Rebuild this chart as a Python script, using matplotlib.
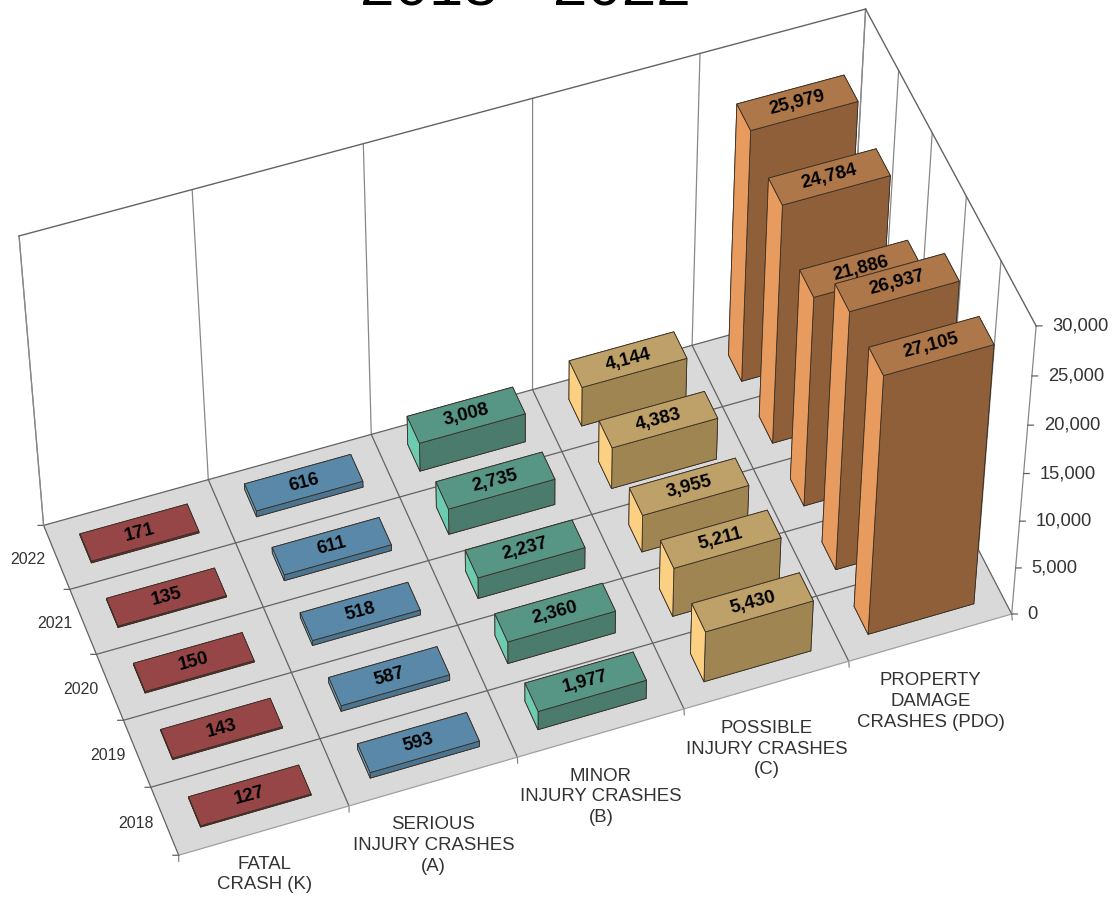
import numpy as np
import matplotlib
matplotlib.use('Agg')
import matplotlib.pyplot as plt
from mpl_toolkits.mplot3d import proj3d
from mpl_toolkits.mplot3d.art3d import Poly3DCollection

years = ['2018', '2019', '2020', '2021', '2022']
categories = ['FATAL\nCRASH (K)', 'SERIOUS\nINJURY CRASHES\n(A)', 'MINOR\nINJURY CRASHES\n(B)',
              'POSSIBLE\nINJURY CRASHES\n(C)', 'PROPERTY\nDAMAGE\nCRASHES (PDO)']
fatal = [127, 143, 150, 135, 171]
serious = [593, 587, 518, 611, 616]
minor = [1977, 2360, 2237, 2735, 3008]
possible = [5430, 5211, 3955, 4383, 4144]
pdo = [27105, 26937, 21886, 24784, 25979]
z_ticks = [0, 5000, 10000, 15000, 20000, 25000, 30000]

# colours per category: top, front, left side
top_cols = ['#974648', '#5a88a8', '#579584', '#bea168', '#ad774a']
front_cols = ['#6e3133', '#4a7490', '#4a7b6c', '#9f8551', '#8e5f38']
left_cols = ['#a85254', '#6aa3c4', '#6ccbb1', '#fbd083', '#e89b5f']

W, H = 1113, 898
BAR_W, BAR_D = 0.65, 0.43
GRID = '#636363'
WALL = '#888888'
TEXT = '#333333'
SANS = ['Liberation Sans', 'DejaVu Sans']

fig = plt.figure(figsize=(W/100, H/100), dpi=100)
# camera was fitted to the frame of the original chart
side = 1063.97
ax = fig.add_axes([-21.39/W, -77.01/H, side/W, side/H], projection='3d')
ax.computed_zorder = False
ax.set_axis_off()
ax.patch.set_alpha(0)
ax.view_init(50.237, -109.861, 0.061)
ax.set_proj_type('persp', focal_length=1.222)
ax.set_box_aspect((1.979, 0.992, 1))

series = [fatal, serious, minor, possible, pdo]
n_cat, n_year = len(series), len(years)
z_max = z_ticks[-1]

# floor
floor = Poly3DCollection([[(0, 0, 0), (n_cat, 0, 0), (n_cat, n_year, 0), (0, n_year, 0)]],
                         facecolor='#d9d9d9', edgecolor='none', zorder=1)
ax.add_collection3d(floor, autolim=False)

# floor grid and wall lines
for i in range(n_cat + 1):
    ax.plot([i, i], [0, n_year], [0, 0], color=GRID, lw=0.9, zorder=2)
    ax.plot([i, i], [n_year, n_year], [0, z_max], color=WALL, lw=0.9, zorder=2)
    ax.plot([i, i - 0.013], [0, -0.079], [0, 0], color=WALL, lw=0.9, zorder=2)
for j in range(n_year + 1):
    ax.plot([0, n_cat], [j, j], [0, 0], color=GRID if j else '#a0a0a0', lw=0.9, zorder=2)
    ax.plot([n_cat, n_cat], [j, j], [0, z_max], color=WALL, lw=0.9, zorder=2)
    ax.plot([0, -0.03], [j, j + 0.021], [0, 0], color=GRID, lw=0.9, zorder=2)
ax.plot([0, 0], [n_year, n_year], [0, z_max], color=WALL, lw=0.9, zorder=2)
ax.plot([0, n_cat], [n_year, n_year], [z_max, z_max], color=GRID, lw=1.0, zorder=2)
ax.plot([n_cat, n_cat], [0, n_year], [z_max, z_max], color=GRID, lw=1.0, zorder=2)
for z in z_ticks:
    ax.plot([n_cat, n_cat + 0.03], [0, -0.021], [z, z], color=GRID, lw=0.9, zorder=2)

# bars, back to front
order = 3
for j in range(n_year - 1, -1, -1):
    for i in range(n_cat - 1, -1, -1):
        v = series[i][j]
        cols = [front_cols[i], top_cols[i], front_cols[i], front_cols[i], left_cols[i], front_cols[i]]
        ax.bar3d(i + (1 - BAR_W)/2, j + (1 - BAR_D)/2, 0, BAR_W, BAR_D, v, color=cols, shade=False,
                 edgecolor='#3a3026', linewidth=0.6, zorder=order)
        order += 1

ax.set_xlim(0, n_cat)
ax.set_ylim(0, n_year)
ax.set_zlim(0, z_max)

M = ax.get_proj()


def to_2d(x, y, z):
    X, Y, _ = proj3d.proj_transform(x, y, z, M)
    return X, Y


# value labels lie along the top of each bar
for i in range(n_cat):
    for j in range(n_year):
        v = series[i][j]
        x0, y0 = to_2d(i + 0.2, j + 0.5, v)
        x1, y1 = to_2d(i + 0.8, j + 0.5, v)
        angle = np.degrees(np.arctan2(y1 - y0, x1 - x0)) - 1
        ax.annotate(f'{v:,}', xy=to_2d(i + 0.5, j + 0.5, v), ha='center', va='center', rotation=angle,
                    rotation_mode='anchor', family=SANS, fontweight='bold', fontsize=13.4,
                    color='black', zorder=400)

# axis labels sit a fixed number of pixels from the frame
for z in z_ticks:
    ax.annotate(f'{z:,}', xy=to_2d(n_cat, 0, z), xytext=(16, 0), textcoords='offset pixels',
                ha='left', va='center', family=SANS, fontsize=13.2, color=TEXT, zorder=500)
for j, year in enumerate(years):
    ax.annotate(year, xy=to_2d(0, j + 0.5, 0), xytext=(-11, -2), textcoords='offset pixels',
                ha='right', va='center', family=SANS, fontsize=11.4, color=TEXT, zorder=500)
for i, cat in enumerate(categories):
    off = 64 if cat.count('\n') == 2 else 44
    ax.annotate(cat, xy=to_2d(i + 0.5, 0, 0), xytext=(0, -off), textcoords='offset pixels',
                ha='center', va='center', multialignment='center', family=SANS, fontsize=13.4,
                color=TEXT, linespacing=1.28, zorder=500)

# the title is cut by the top edge in the original as well
fig.text(525/W, 1 - 5/H, '2018 - 2022', ha='center', va='baseline', family=SANS, fontsize=44.6,
         color='black')
fig.savefig('out.png', dpi=100)
